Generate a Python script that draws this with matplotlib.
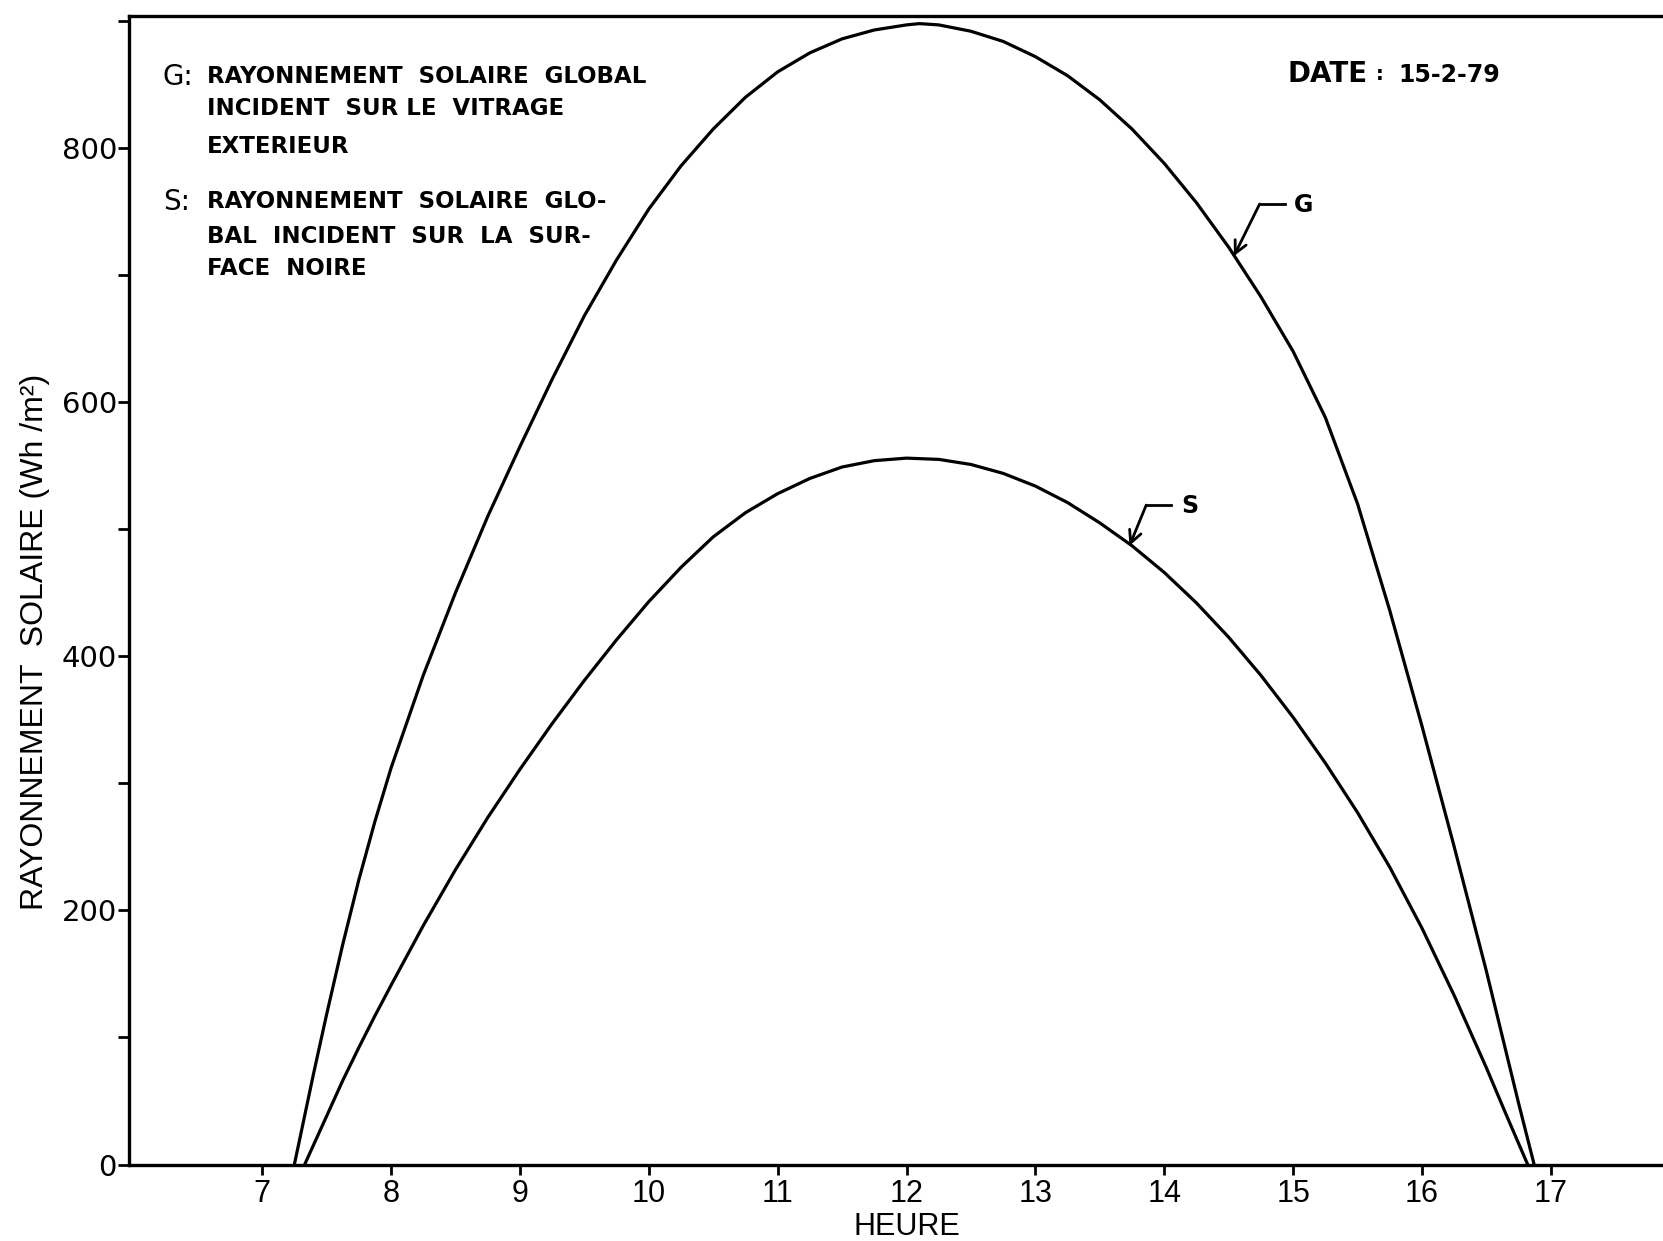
import matplotlib
matplotlib.use("Agg")
import matplotlib.pyplot as plt

# ---------------- data ----------------
hours_G = [7.25, 7.4, 7.5, 7.625, 7.75, 7.875, 8.0, 8.25, 8.5, 8.75, 9.0, 9.25,
           9.5, 9.75, 10.0, 10.25, 10.5, 10.75, 11.0, 11.25, 11.5, 11.75,
           12.0, 12.1, 12.25, 12.5, 12.75, 13.0, 13.25, 13.5, 13.75, 14.0,
           14.25, 14.5, 14.75, 15.0, 15.25, 15.5, 15.75, 16.0, 16.25, 16.5,
           16.75, 16.87]
G_values = [0, 72, 118, 173, 224, 270, 312, 385, 450, 510, 565, 618,
            668, 712, 752, 786, 815, 840, 860, 875, 886, 893,
            897, 898, 897, 892, 884, 872, 857, 838, 815, 788,
            757, 722, 683, 640, 588, 520, 436, 345, 250, 152,
            48, 0]

hours_S = [7.33, 7.5, 7.625, 7.75, 7.875, 8.0, 8.25, 8.5, 8.75, 9.0, 9.25,
           9.5, 9.75, 10.0, 10.25, 10.5, 10.75, 11.0, 11.25, 11.5, 11.75,
           12.0, 12.25, 12.5, 12.75, 13.0, 13.25, 13.5, 13.75, 14.0, 14.25,
           14.5, 14.75, 15.0, 15.25, 15.5, 15.75, 16.0, 16.25, 16.5, 16.65,
           16.82]
S_values = [0, 38, 66, 92, 117, 141, 188, 232, 273, 311, 347,
            381, 413, 443, 470, 494, 513, 528, 540, 549, 554,
            556, 555, 551, 544, 534, 521, 505, 487, 466, 442,
            415, 385, 352, 316, 277, 234, 186, 133, 76, 40,
            0]

x_ticks = [7, 8, 9, 10, 11, 12, 13, 14, 15, 16, 17]
x_tick_labels = ["7", "8", "9", "10", "11", "12", "13", "14", "15", "16", "17"]
y_major_ticks = [0, 200, 400, 600, 800]
y_major_labels = ["0", "200", "400", "600", "800"]
y_minor_ticks = [100, 300, 500, 700, 900]

legend_G_lines = ["RAYONNEMENT  SOLAIRE  GLOBAL",
                  "INCIDENT  SUR LE  VITRAGE",
                  "EXTERIEUR"]
legend_S_lines = ["RAYONNEMENT  SOLAIRE  GLO-",
                  "BAL  INCIDENT  SUR  LA  SUR-",
                  "FACE  NOIRE"]
date_word = "DATE"
date_value = "15-2-79"
x_label = "HEURE"
y_label = "RAYONNEMENT  SOLAIRE (Wh /m²)"

# ---------------- figure ----------------
W, H = 1663, 1241
fig = plt.figure(figsize=(W / 100, H / 100), dpi=100)
fig.patch.set_facecolor("white")

ax_left, ax_bottom_px, ax_top_px = 129.4, 1164.5, 16.0
ax = fig.add_axes([ax_left / W, 1 - ax_bottom_px / H,
                   1 - ax_left / W, (ax_bottom_px - ax_top_px) / H])

ax.plot(hours_G, G_values, color="black", lw=2.3, solid_joinstyle="round")
ax.plot(hours_S, S_values, color="black", lw=2.3, solid_joinstyle="round")

ax.set_xlim(5.97, 17.87)
ax.set_ylim(0, 904)

ax.spines["right"].set_visible(False)
for s in ["left", "bottom", "top"]:
    ax.spines[s].set_linewidth(2.4)

ax.set_xticks(x_ticks)
ax.set_xticklabels(x_tick_labels, family="Liberation Sans", fontsize=22)
ax.set_yticks(y_major_ticks)
ax.set_yticklabels(y_major_labels, family="DejaVu Sans", fontsize=21)
ax.set_yticks(y_minor_ticks, minor=True)
ax.tick_params(axis="x", direction="out", length=7.5, width=2, pad=3)
ax.tick_params(axis="y", which="both", direction="out", length=8, width=2, pad=1)
ax.tick_params(axis="x", which="minor", bottom=False)

ax.set_xlabel(x_label, family="Liberation Sans", fontsize=22, va="center")
ax.xaxis.set_label_coords(0.507, -0.0544)
ax.set_ylabel(y_label, family="Liberation Sans", fontsize=23, va="center")
ax.yaxis.set_label_coords(-0.0616, 0.455)


def px(x, y):
    return x / W, 1 - y / H


# legend block (top left)
LEG_SIZE = 16.5
fig.text(*px(163, 85), "G:", family="DejaVu Sans", fontsize=20, va="baseline")
for line, yb in zip(legend_G_lines, [83, 115, 153]):
    fig.text(*px(207, yb), line, family="DejaVu Sans", weight="bold",
             fontsize=LEG_SIZE, va="baseline")
fig.text(*px(163, 210), "S:", family="DejaVu Sans", fontsize=20, va="baseline")
for line, yb in zip(legend_S_lines, [208, 243, 275]):
    fig.text(*px(207, yb), line, family="DejaVu Sans", weight="bold",
             fontsize=LEG_SIZE, va="baseline")

# date
fig.text(*px(1287, 82), date_word, family="DejaVu Sans", weight="bold",
         fontsize=20, va="baseline")
fig.text(*px(1376, 80), ":", family="DejaVu Sans", weight="bold",
         fontsize=14, va="baseline")
fig.text(*px(1398, 82), date_value, family="DejaVu Sans", weight="bold",
         fontsize=17, va="baseline")

# curve labels with arrows
G_tip, G_elbow, G_end, G_text = (14.54, 715), (14.74, 756), (14.94, 756), (15.08, 755)
S_tip, S_elbow, S_end, S_text = (13.73, 487), (13.86, 519), (14.05, 519), (14.20, 518)

for tip, elbow, end, txt, name in [(G_tip, G_elbow, G_end, G_text, "G"),
                                   (S_tip, S_elbow, S_end, S_text, "S")]:
    ax.plot([elbow[0], end[0]], [elbow[1], end[1]], color="black", lw=2)
    ax.annotate("", xy=tip, xytext=elbow,
                arrowprops=dict(arrowstyle="->", lw=2, color="black",
                                mutation_scale=22, shrinkA=0, shrinkB=0))
    ax.text(txt[0], txt[1], name, family="DejaVu Sans", weight="bold",
            fontsize=17, ha="center", va="center")

fig.savefig("out.png", dpi=100, facecolor="white")
